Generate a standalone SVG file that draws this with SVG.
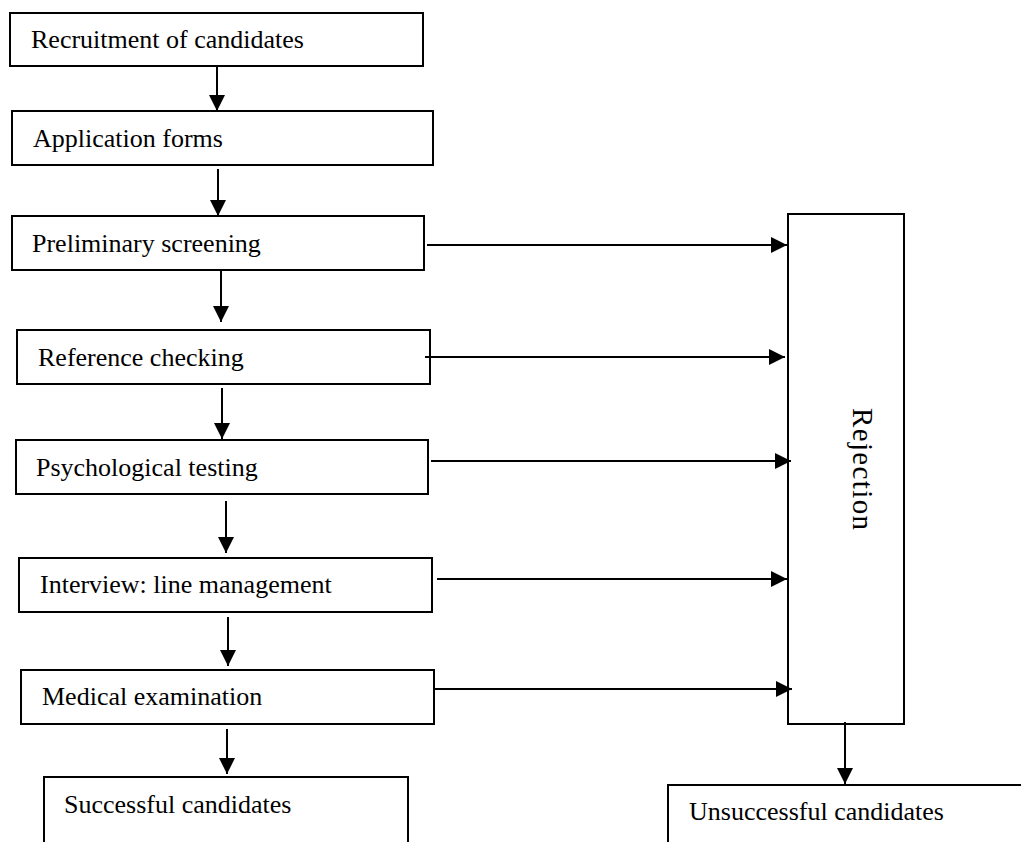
<svg xmlns="http://www.w3.org/2000/svg" width="1021" height="842" viewBox="0 0 1021 842">
  <style>
    .box { fill: #ffffff; stroke: #000000; stroke-width: 2; }
    .lbl { font-family: "Liberation Serif", "Times New Roman", serif; font-size: 26px; fill: #000000; }
    .side { font-size: 29px; }
    .arr { stroke: #000000; stroke-width: 2; fill: none; marker-end: url(#head); }
  </style>
  <defs>
    <marker id="head" markerUnits="userSpaceOnUse" markerWidth="16" markerHeight="16" refX="16" refY="8" orient="auto">
      <path d="M0,0 L16,8 L0,16 Z" fill="#000000"/>
    </marker>
  </defs>
  <rect width="1021" height="842" fill="#ffffff"/>

  <!-- selection stages -->
  <g id="recruitment">
    <rect class="box" x="10" y="13" width="413" height="53"/>
    <text class="lbl" x="31" y="48">Recruitment of candidates</text>
  </g>
  <g id="application">
    <rect class="box" x="12" y="111" width="421" height="54"/>
    <text class="lbl" x="33" y="147">Application forms</text>
  </g>
  <g id="screening">
    <rect class="box" x="12" y="216" width="412" height="54"/>
    <text class="lbl" x="32" y="252">Preliminary screening</text>
  </g>
  <g id="reference">
    <rect class="box" x="17" y="330" width="413" height="54"/>
    <text class="lbl" x="38" y="366">Reference checking</text>
  </g>
  <g id="psychological">
    <rect class="box" x="16" y="440" width="412" height="54"/>
    <text class="lbl" x="36" y="476">Psychological testing</text>
  </g>
  <g id="interview">
    <rect class="box" x="19" y="558" width="413" height="54"/>
    <text class="lbl" x="40" y="593">Interview: line management</text>
  </g>
  <g id="medical">
    <rect class="box" x="21" y="670" width="413" height="54"/>
    <text class="lbl" x="42" y="705">Medical examination</text>
  </g>
  <g id="successful">
    <rect class="box" x="44" y="777" width="364" height="100"/>
    <text class="lbl" x="64" y="813">Successful candidates</text>
  </g>
  <g id="rejection">
    <rect class="box" x="788" y="214" width="116" height="510"/>
    <text class="lbl side" transform="translate(853,408) rotate(90)" x="0" y="0" textLength="122" lengthAdjust="spacing">Rejection</text>
  </g>
  <g id="unsuccessful">
    <rect class="box" x="668" y="785" width="400" height="100"/>
    <text class="lbl" x="689" y="820">Unsuccessful candidates</text>
  </g>

  <!-- connectors -->
  <g id="connectors">
    <line class="arr" x1="217" y1="66" x2="217" y2="111"/>
    <line class="arr" x1="218" y1="169" x2="218" y2="216"/>
    <line class="arr" x1="221" y1="270" x2="221" y2="322"/>
    <line class="arr" x1="222" y1="388" x2="222" y2="439"/>
    <line class="arr" x1="226" y1="501" x2="226" y2="553"/>
    <line class="arr" x1="228" y1="617" x2="228" y2="666"/>
    <line class="arr" x1="227" y1="729" x2="227" y2="774"/>
    <line class="arr" x1="845" y1="722" x2="845" y2="784"/>

    <line class="arr" x1="427" y1="245" x2="787" y2="245"/>
    <line class="arr" x1="425" y1="357" x2="785" y2="357"/>
    <line class="arr" x1="431" y1="461" x2="791" y2="461"/>
    <line class="arr" x1="437" y1="579" x2="787" y2="579"/>
    <line class="arr" x1="433" y1="689" x2="792" y2="689"/>
  </g>
</svg>
